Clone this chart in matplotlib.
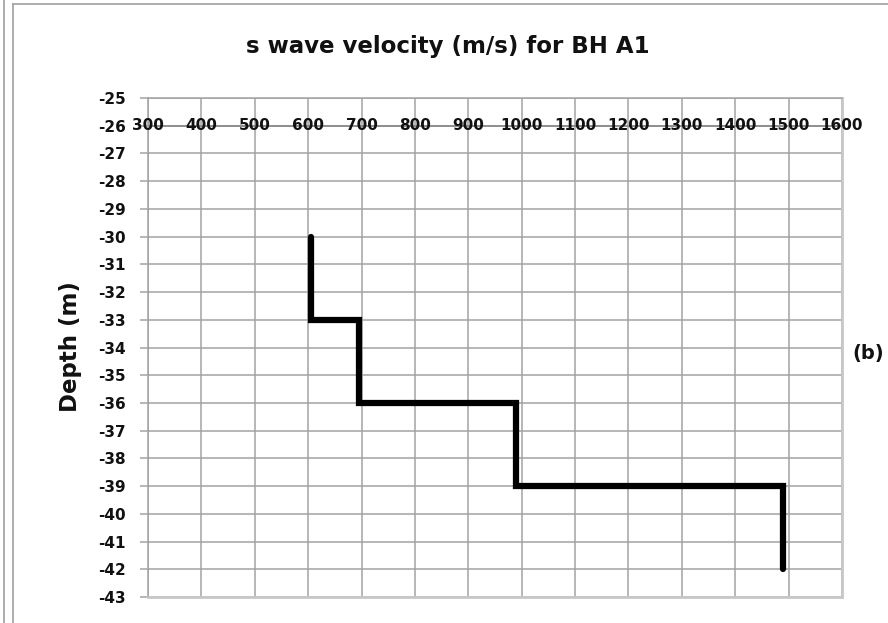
import matplotlib
matplotlib.use("Agg")
import matplotlib.pyplot as plt
from matplotlib.lines import Line2D

# Data
depth = [-30, -33, -33, -36, -36, -39, -39, -42]
velocity = [605, 605, 695, 695, 990, 990, 1490, 1490]
x_ticks = [300, 400, 500, 600, 700, 800, 900, 1000, 1100, 1200, 1300, 1400, 1500, 1600]
y_ticks = list(range(-25, -44, -1))

title = "s wave velocity (m/s) for BH A1"
ylabel = "Depth (m)"
panel = "(b)"

FONT = ["DejaVu Sans"]
plt.rcParams['font.family'] = FONT
plt.rcParams['axes.unicode_minus'] = False

fig = plt.figure(figsize=(8.88, 6.23), dpi=100)
W, H = 888, 623
left, right, top, bottom = 148, 842, 98, 597
ax = fig.add_axes([left / W, 1 - bottom / H, (right - left) / W, (bottom - top) / H])

grid_c = "#a3a3a3"
txt_c = "#111111"
ax.set_xlim(300, 1600)
ax.set_ylim(-43, -25)
ax.set_xticks(x_ticks)
ax.set_yticks(y_ticks)
ax.grid(True, color=grid_c, linewidth=1.1)
ax.set_axisbelow(True)

for s in ["top", "right", "bottom", "left"]:
    ax.spines[s].set_color(grid_c)
    ax.spines[s].set_linewidth(1.1)
ax.spines["right"].set_color("#c8c8c8")
ax.spines["right"].set_linewidth(2)
ax.spines["bottom"].set_color("#c8c8c8")
ax.spines["bottom"].set_linewidth(2)

# x axis crossing at -26
ax.axhline(-26, color="#8c8c8c", linewidth=1.3, zorder=1)
ax.tick_params(axis="x", length=0, labelbottom=False)
for v in x_ticks:
    ax.text(v, -26, str(v), ha="center", va="center", fontsize=11,
            fontweight="bold", color=txt_c, zorder=3)

ax.tick_params(axis="y", length=6, width=1.1, color=grid_c, pad=10,
               labelsize=11, labelcolor=txt_c)
for lbl in ax.get_yticklabels():
    lbl.set_fontweight("bold")

ax.plot(velocity, depth, color="black", linewidth=4.5, solid_capstyle="round",
        solid_joinstyle="miter", zorder=4)

fig.text(448 / W, 1 - 47 / H, title, ha="center", va="center",
         fontsize=16.5, fontweight="bold", color=txt_c)
fig.text(70 / W, 1 - 347 / H, ylabel, ha="center", va="center", rotation=90,
         fontsize=16.5, fontweight="bold", color=txt_c)
fig.text(868 / W, 1 - 353 / H, panel, ha="center", va="center",
         fontsize=14, fontweight="bold", color=txt_c)

# outer frame lines
fig.add_artist(Line2D([4 / W, 4 / W], [0, 1], color="#a0a0a0", linewidth=1.2))
fig.add_artist(Line2D([13 / W, 13 / W], [0, 1 - 4 / H], color="#a0a0a0", linewidth=1.2))
fig.add_artist(Line2D([13 / W, 1], [1 - 4 / H, 1 - 4 / H], color="#a0a0a0", linewidth=1.2))

fig.savefig("out.png", dpi=100)
